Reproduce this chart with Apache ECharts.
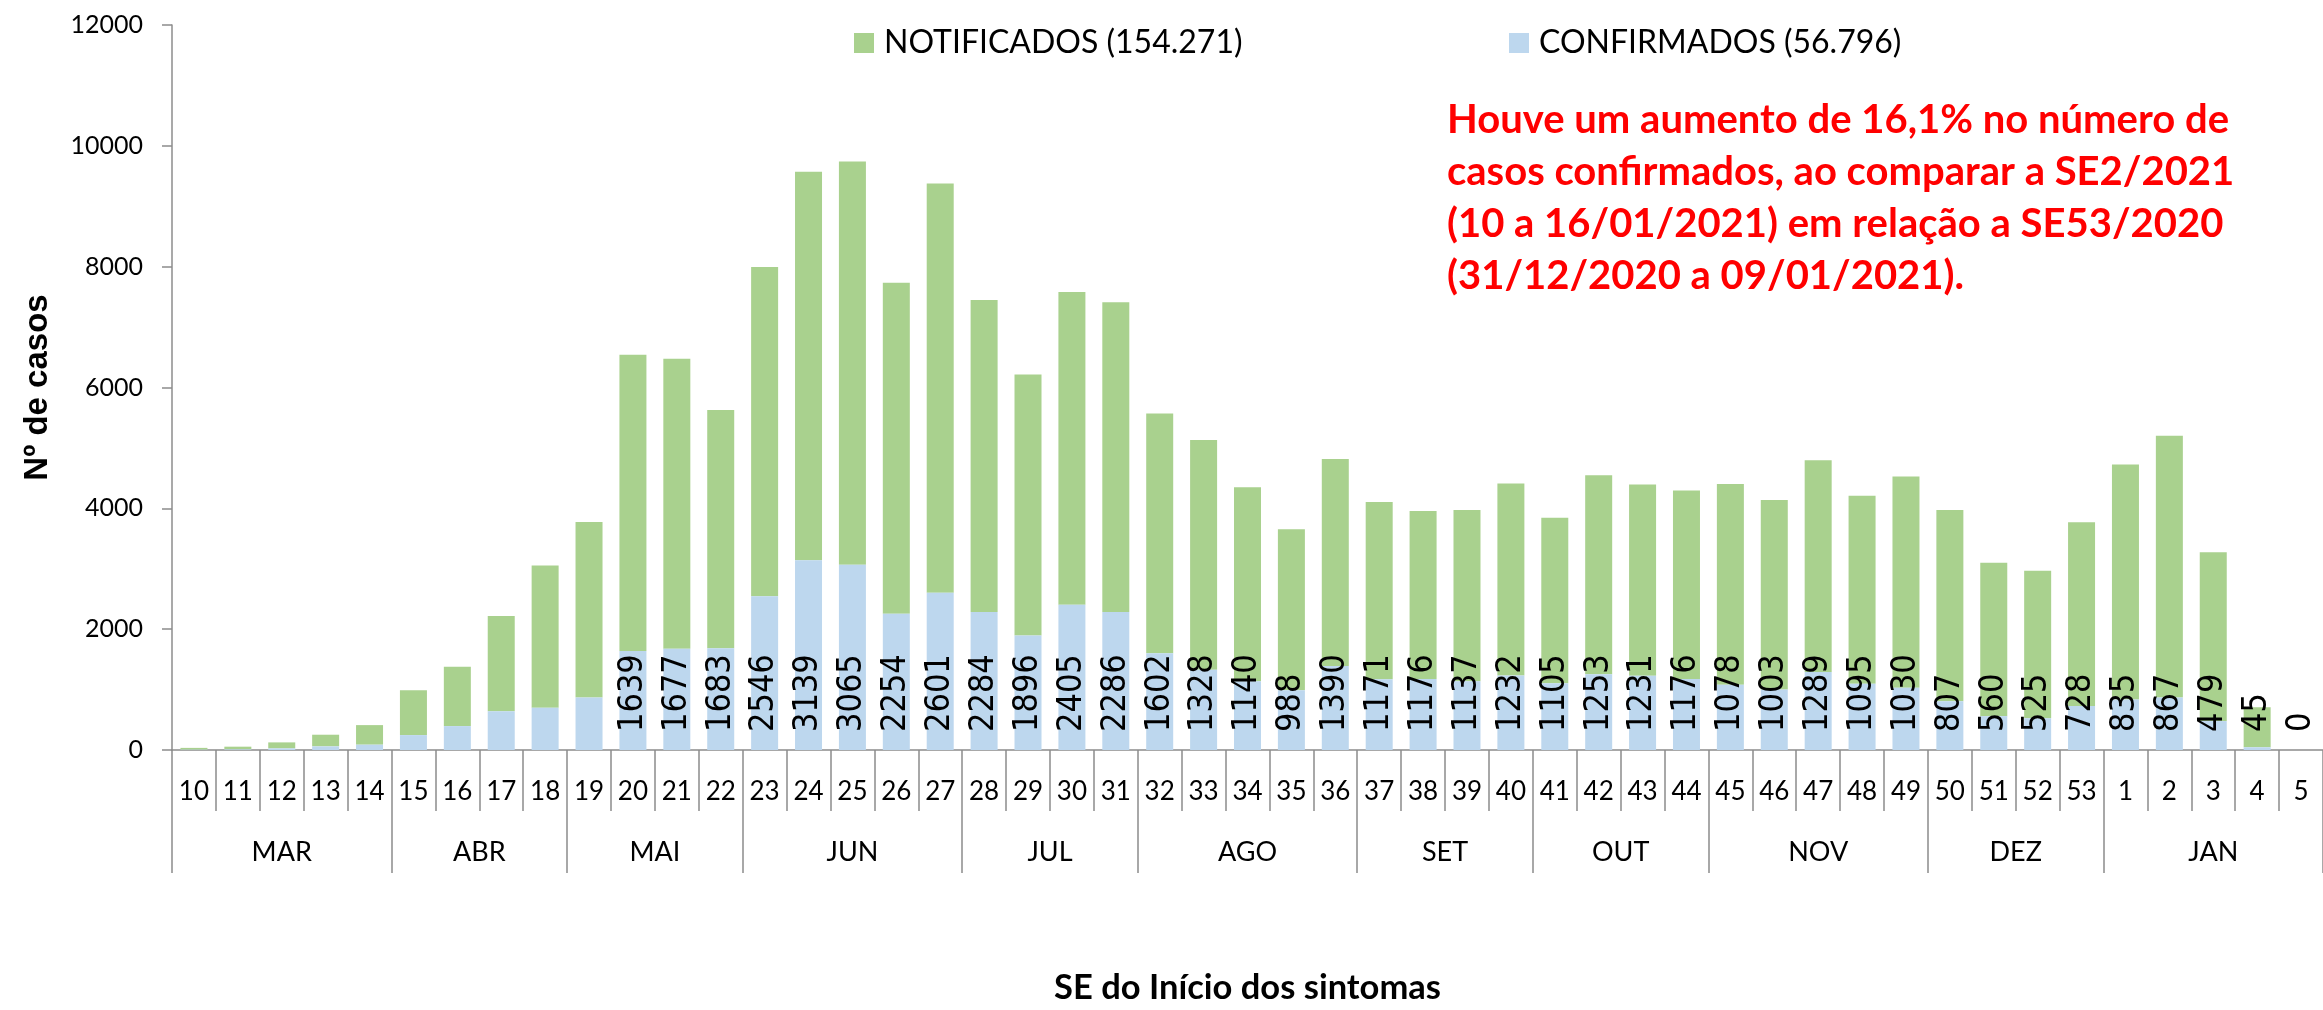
<!DOCTYPE html>
<html>
<head>
<meta charset="utf-8">
<script src="https://cdn.jsdelivr.net/npm/echarts@6/dist/echarts.min.js"></script>
<style>
  html, body { margin: 0; padding: 0; background: #fff; }
  #main { width: 2323px; height: 1010px; }
</style>
</head>
<body>
<div id="main"></div>
<script>
// semanas epidemiologicas (SE) do inicio dos sintomas
var weeks = ["10", "11", "12", "13", "14", "15", "16", "17", "18", "19", "20", "21", "22",
  "23", "24", "25", "26", "27", "28", "29", "30", "31", "32", "33", "34", "35", "36",
  "37", "38", "39", "40", "41", "42", "43", "44", "45", "46", "47", "48", "49", "50",
  "51", "52", "53", "1", "2", "3", "4", "5"];

var months = ["MAR", "ABR", "MAI", "JUN", "JUL", "AGO", "SET", "OUT", "NOV", "DEZ", "JAN"];
var weeksPerMonth = [5, 4, 4, 5, 4, 5, 4, 4, 5, 4, 5];

var confirmados = [5, 10, 27, 60, 88, 247, 396, 643, 700, 870, 1639, 1677, 1683,
  2546, 3139, 3065, 2254, 2601, 2284, 1896, 2405, 2286, 1602, 1328, 1140, 988, 1390,
  1171, 1176, 1137, 1232, 1105, 1253, 1231, 1176, 1078, 1003, 1289, 1095, 1030, 807,
  560, 525, 728, 835, 867, 479, 45, 0];

var notificados = [30, 45, 99, 193, 324, 742, 983, 1576, 2353, 2904, 4904, 4800, 3943,
  5447, 6432, 6676, 5481, 6777, 5166, 4318, 5177, 5125, 3969, 3803, 3211, 2666, 3428,
  2933, 2780, 2835, 3180, 2741, 3296, 3165, 3120, 3323, 3134, 3507, 3113, 3498, 3165,
  2539, 2442, 3041, 3890, 4336, 2796, 664, 0];

var firstLabelled = 10; // rotulos so a partir da SE 20

var nameNot = "NOTIFICADOS (154.271)";
var nameConf = "CONFIRMADOS (56.796)";
var note = "Houve um aumento de 16,1% no número de\ncasos confirmados, ao comparar a SE2/2021\n(10 a 16/01/2021) em relação a SE53/2020\n(31/12/2020 a 09/01/2021).";

// limites e centros dos meses no eixo de semanas
var monthEdges = [0];
var monthCenters = [];
weeksPerMonth.forEach(function (n) {
  var start = monthEdges[monthEdges.length - 1];
  monthCenters.push(start + n / 2);
  monthEdges.push(start + n);
});

var calibri = "Lato";
var gray = "#8c8c8c";

var myChart = echarts.init(document.getElementById("main"));
myChart.setOption({
  animation: false,
  grid: { left: 172, right: -9, top: 25, bottom: 257 },
  legend: [
    {
      data: [nameNot], left: 854, top: 27, padding: 0,
      icon: "rect", itemWidth: 20, itemHeight: 20,
      textStyle: { fontSize: 32, fontFamily: calibri, color: "#000", padding: [0, 0, 0, 5] }
    },
    {
      data: [nameConf], left: 1509, top: 27, padding: 0,
      icon: "rect", itemWidth: 20, itemHeight: 20,
      textStyle: { fontSize: 32, fontFamily: calibri, color: "#000", padding: [0, 0, 0, 5] }
    }
  ],
  graphic: [
    {
      type: "text", left: 1447, top: 94,
      style: {
        text: note, fill: "#ff0000", fontFamily: calibri, fontWeight: "bold",
        fontSize: 40, lineHeight: 52
      }
    }
  ],
  xAxis: [
    {
      type: "category",
      data: weeks,
      position: "bottom",
      axisLine: { lineStyle: { color: gray, width: 1.5 } },
      axisTick: { show: true, length: 61, interval: 0, lineStyle: { color: gray, width: 1.5 } },
      axisLabel: { interval: 0, margin: 29, fontSize: 26, fontFamily: calibri, color: "#000" },
      name: "SE do Início dos sintomas",
      nameLocation: "middle",
      nameGap: 220,
      nameTextStyle: { fontSize: 34.5, fontWeight: "bold", fontFamily: calibri, color: "#000" }
    },
    {
      type: "value",
      min: 0,
      max: weeks.length,
      position: "bottom",
      axisLine: { show: false },
      splitLine: { show: false },
      axisTick: { show: true, length: 123, customValues: monthEdges, lineStyle: { color: gray, width: 1.5 } },
      axisLabel: {
        customValues: monthCenters,
        margin: 89,
        fontSize: 27,
        fontFamily: calibri,
        color: "#000",
        formatter: function (v) {
          var i = monthCenters.indexOf(v);
          return i >= 0 ? months[i] : "";
        }
      }
    }
  ],
  yAxis: {
    type: "value",
    min: 0,
    max: 12000,
    interval: 2000,
    axisLine: { show: true, lineStyle: { color: gray, width: 1.5 } },
    axisTick: { show: true, length: 10, lineStyle: { color: gray, width: 1.5 } },
    splitLine: { show: false },
    axisLabel: {
      margin: 29, fontSize: 25, fontFamily: calibri, color: "#000",
      formatter: function (v) { return String(v); }
    },
    name: "Nº de casos",
    nameLocation: "middle",
    nameGap: 118,
    nameRotate: 90,
    nameTextStyle: { fontSize: 33, fontWeight: "bold", fontFamily: "Liberation Sans", color: "#000" }
  },
  series: [
    {
      name: nameConf,
      type: "bar",
      stack: "total",
      xAxisIndex: 0,
      data: confirmados,
      barWidth: 27,
      z: 3,
      itemStyle: { color: "#bdd7ee" },
      label: {
        show: true,
        position: "insideBottom",
        rotate: 90,
        align: "left",
        verticalAlign: "middle",
        distance: 18,
        fontSize: 34,
        fontFamily: "DejaVu Sans Condensed, Liberation Sans Narrow, sans-serif",
        color: "#000",
        formatter: function (p) {
          return p.dataIndex < firstLabelled ? "" : String(p.value);
        }
      }
    },
    {
      name: nameNot,
      type: "bar",
      stack: "total",
      xAxisIndex: 0,
      data: notificados,
      barWidth: 27,
      z: 2,
      itemStyle: { color: "#a9d18e" }
    }
  ]
});
</script>
</body>
</html>
